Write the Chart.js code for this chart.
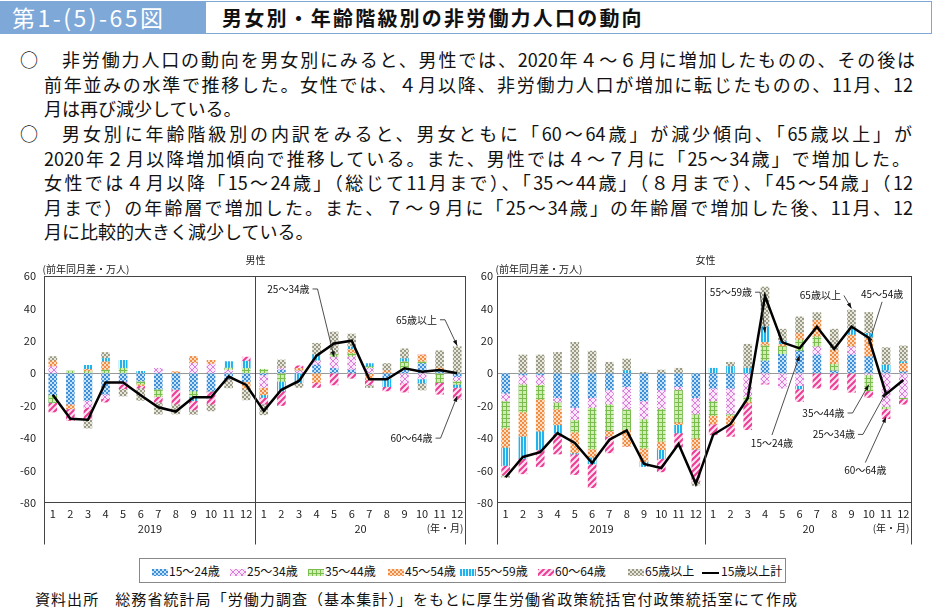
<!DOCTYPE html>
<html lang="ja">
<head>
<meta charset="utf-8">
<script src="https://cdn.jsdelivr.net/npm/chart.js@4.4.1/dist/chart.umd.min.js"></script>
<style>
body{margin:0;width:933px;height:608px;position:relative;overflow:hidden;background:#fff;font-family:'Noto Sans CJK JP',sans-serif;color:#111}
#fig{position:absolute;left:0;top:1px;width:205px;height:33px;background:#7ea8d8;color:#fff;font-size:23px;line-height:33px;padding-left:12px;box-sizing:border-box;letter-spacing:2.5px}
#ttl{position:absolute;left:205px;top:1px;width:727px;height:33px;border:1px solid #7ea8d8;box-sizing:border-box;font-size:20px;font-weight:bold;line-height:31px;padding-left:16px;letter-spacing:2.2px}
.ln{position:absolute;font-size:18px;line-height:24px;white-space:nowrap;text-align:justify;text-align-last:justify}
.last{text-align-last:left}
.mk{position:absolute;left:20px;font-size:18px;line-height:24px}
canvas.ch{position:absolute;top:250px}
#legend{position:absolute;left:139px;top:558px;width:647px;height:25px;border:1px solid #888;box-sizing:border-box;font-size:12px}
.li{position:absolute;top:0;height:23px;line-height:23px;white-space:nowrap}
.li canvas,.li span.sw{display:inline-block;vertical-align:middle;margin-right:1px}
#src{position:absolute;left:35px;top:588px;width:762px;font-size:15px;line-height:22px;white-space:nowrap;text-align:justify;text-align-last:justify}
</style>
</head>
<body>
<div id="fig">第1-(5)-65図</div>
<div id="ttl">男女別・年齢階級別の非労働力人口の動向</div>

<div class="mk" style="top:47px">○</div>
<div class="ln" style="left:62px;width:853px;top:47px">非労働力人口の動向を男女別にみると、男性では、2020年４～６月に増加したものの、その後は</div>
<div class="ln" style="left:44px;width:869px;top:72px">前年並みの水準で推移した。女性では、４月以降、非労働力人口が増加に転じたものの、11月、12</div>
<div class="ln last" style="left:44px;top:96px">月は再び減少している。</div>
<div class="mk" style="top:121px">○</div>
<div class="ln" style="left:62px;width:850px;top:121px">男女別に年齢階級別の内訳をみると、男女ともに「60～64歳」が減少傾向、「65歳以上」が</div>
<div class="ln" style="left:44px;width:866px;top:146px">2020年２月以降増加傾向で推移している。また、男性では４～７月に「25～34歳」で増加した。</div>
<div class="ln" style="left:44px;width:869px;top:170px">女性では４月以降「15～24歳」（総じて11月まで）、「35～44歳」（８月まで）、「45～54歳」（12</div>
<div class="ln" style="left:44px;width:869px;top:195px">月まで）の年齢層で増加した。また、７～９月に「25～34歳」の年齢層で増加した後、11月、12</div>
<div class="ln last" style="left:44px;top:219px">月に比較的大きく減少している。</div>

<canvas id="maleChart" class="ch" style="left:0" width="470" height="300"></canvas>
<canvas id="femaleChart" class="ch" style="left:470px" width="463" height="300"></canvas>

<div id="legend"></div>
<div id="src">資料出所　総務省統計局「労働力調査（基本集計）」をもとに厚生労働省政策統括官付政策統括室にて作成</div>

<script>
// months: 2019/1-12, 2020/1-12
const months = ['1','2','3','4','5','6','7','8','9','10','11','12','1','2','3','4','5','6','7','8','9','10','11','12'];
const years = ['2019', '20'];
const seriesNames = ['15～24歳', '25～34歳', '35～44歳', '45～54歳', '55～59歳', '60～64歳', '65歳以上'];
const totalName = '15歳以上計';
const yTicks = [-80, -60, -40, -20, 0, 20, 40, 60];

// 男性 (前年同月差・万人)
const male15_24 = [-13.3, -19, -16.8, -12.9, -5, -4.7, -9.8, -9.8, -10.9, -10.9, -3.5, -5.1, -1, 2, 0, 5.1, 3, 2, 0, -3.1, 2, 6, 1.5, -2];
const male25_34 = [4.1, 0, -4.3, -2.9, -2, 0, 3.1, 0, 6.1, 5.7, 2, 0, -7.8, 1.2, 1.5, 2.5, 7, 8.2, 3, 0, -6.1, -3.5, 0, -2.7];
const male35_44 = [-4.7, 1.4, 1, 2, 3.1, -2, -4.5, 0, -3.5, 0, 1.2, 3, 2.5, -5, 0, 0, 1.5, 2, 1, 0, 5, 1, -5.7, -2];
const male45_54 = [3.5, -2.9, 1.4, 5.1, 0, -1, 0, 1, 4.3, 2.3, 0, -4.1, -4.5, 0, 1.5, -5.7, 0, 2.5, -4.1, 1.5, 0, 4.3, 2, 0];
const male55_59 = [0, 0, 2.5, 2, 4.9, 1.2, 0, 0, -2.5, 0, 4, 4.5, -1.6, -6, -5.7, 3.7, 0, 1.5, 2, -5.1, 2, -2.5, 0, -2];
const male60_64 = [-5.9, -7.2, -7, -2, -2.5, -1.4, -3.5, -9.2, -5.7, -8.2, 0, 2.5, -4.1, -8.9, 1.6, -3.1, -7.2, -3.1, -3.1, -2.7, -5.5, 0, -7.2, -7.6];
const male65 = [2.7, 0, -5.7, 3.7, -4.5, -7.6, -7.4, -6.1, -2.7, -4.1, -5.5, -7.2, -6.6, 5, -3, 7.2, 14, 8, -1.6, 4.5, 6.1, -4.3, 10.4, 16.4];
const maleTotal = [-13.3, -28, -28.7, -5.7, -5.7, -13.5, -21, -23.6, -14.8, -14.8, -2, -7.2, -23.2, -10.2, -4.7, 10.9, 18.4, 20.1, -3.7, -3.7, 3.1, 1, 2, 0];

// 女性 (前年同月差・万人)
const female15_24 = [-12.3, -1, -1, -15, -21.1, -15, -10.2, -8.2, -17, -10.2, -8.2, -15, -9.2, -9.2, 0, 7.6, 11.7, 13.7, 11.3, 1.4, 11.3, 10.2, 1.5, 1];
const female25_34 = [-4.7, -5.7, -6, -2.9, -7.6, -6.1, -8.8, -13.9, -11.2, -11.7, -2, -10.2, -7.8, -16, -14.3, -6.1, -9.2, -7.6, 5.1, 0, 5.1, -1, -20.5, -15];
const female35_44 = [-16.8, -17.2, -9, -4.1, -7.6, -25.6, -16.4, -12.7, -18, -20.1, -19.9, -14.8, -9, -1, -3.1, 9.4, 4.7, 6.8, 6.1, 4.1, 0, -9.8, -1.4, -0.8];
const female45_54 = [-11.9, -15, -19.7, -9.8, -12.9, -5.1, -3.5, -10.2, -8.2, -5.1, -1.6, -6.8, -5.3, -5.9, -1, 2, 1.4, 4.1, 10.2, 8.8, 7.2, 11.7, 0, 5.1];
const female55_59 = [-11.1, -13.7, -11.5, -5.1, -0.6, -4, 0, 1.6, -3.1, -5.5, -5.1, 0, 3.1, 4.1, 3.1, 9.6, 2, -2, 0, 0, 3.7, 2.7, 3.5, 1];
const female60_64 = [-5.7, -9.4, -10.5, -12.9, -12.7, -14.8, -10.2, 0, 0, -8.2, -9, -19.9, -6.6, -6.8, -16.4, -0.6, 0, -7.8, -9.2, -10.2, -11.7, -4.1, -6.1, -3.3];
const female65 = [-1.6, 11.3, 11.3, 12.9, 19.1, 13.7, 6.8, 7.2, 0.6, 2, 3.1, -2.5, 0, 2.7, 14.8, 24.6, 7.4, 10.2, 4.7, 12.9, 11.7, 12.9, 10.8, 9.8];
const femaleTotal = [-64.1, -51.6, -48.6, -36.9, -43, -55.3, -41, -35.2, -55.9, -58.4, -43.6, -68.2, -37.9, -31.4, -15.4, 47.7, 19.1, 15.4, 28.7, 15, 28.7, 21.9, -12.9, -4.1];

// leader notes: text anchor (index, value) and arrow target (index, value)
const maleNotes = [
    { text: '25～34歳', tx: 14.6, ty: 52, align: 'right', from: 'right', tick: true, to: [16, 10] },
    { text: '65歳以上', tx: 21.85, ty: 33, align: 'right', from: 'right', tick: true, to: [23, 17] },
    { text: '60～64歳', tx: 21.6, ty: -40, align: 'right', from: 'right', tick: true, to: [23, -14] }
];
const femaleNotes = [
    { text: '55～59歳', tx: 14.25, ty: 50, align: 'right', from: 'right', tick: true, to: [15, 25] },
    { text: '65歳以上', tx: 18.2, ty: 48, align: 'center', from: 'right', tick: false, to: [20, 40] },
    { text: '45～54歳', tx: 21.77, ty: 49, align: 'center', from: 'bottom', to: [21, 18] },
    { text: '15～24歳', tx: 15.4, ty: -43, align: 'center', from: 'top', to: [17, 11] },
    { text: '35～44歳', tx: 19.6, ty: -24.5, align: 'right', from: 'right', tick: true, to: [21, -7] },
    { text: '25～34歳', tx: 20.2, ty: -37.7, align: 'right', from: 'right', tick: true, to: [22, -11.6] },
    { text: '60～64歳', tx: 20.8, ty: -60, align: 'center', from: 'top', to: [22, -27] }
];

const FONT = '"Noto Sans CJK JP", sans-serif';

function tile(size, bg, draw) {
    const c = document.createElement('canvas');
    c.width = size;
    c.height = size;
    const g = c.getContext('2d');
    g.fillStyle = bg;
    g.fillRect(0, 0, size, size);
    draw(g, size);
    return g.createPattern(c, 'repeat');
}

const patterns = [
    tile(4, '#c4e2f8', g => { g.fillStyle = '#3f8fd8'; g.fillRect(0, 0, 2, 2); g.fillRect(2, 2, 2, 2); }),
    tile(6, '#fbe6fb', g => {
        g.strokeStyle = '#d97fd9'; g.lineWidth = 1;
        g.beginPath(); g.moveTo(0, 0); g.lineTo(6, 6); g.moveTo(6, 0); g.lineTo(0, 6); g.stroke();
    }),
    tile(4, '#d3ecb6', g => { g.fillStyle = '#78bd4e'; g.fillRect(0, 0, 4, 1); g.fillRect(0, 0, 1, 4); }),
    tile(4, '#fddcbf', g => { g.fillStyle = '#f08c44'; g.fillRect(0, 0, 2, 2); g.fillRect(2, 2, 2, 2); }),
    tile(3, '#22b2ec', g => { g.fillStyle = '#e4f6fd'; g.fillRect(2, 0, 1, 3); }),
    tile(6, '#fde4f0', g => {
        g.strokeStyle = '#ec3c96'; g.lineWidth = 2;
        g.beginPath();
        g.moveTo(0, 6); g.lineTo(6, 0);
        g.moveTo(-3, 3); g.lineTo(3, -3);
        g.moveTo(3, 9); g.lineTo(9, 3);
        g.stroke();
    }),
    tile(4, '#e6e6da', g => { g.fillStyle = '#9a9a86'; g.fillRect(0, 0, 2, 2); g.fillRect(2, 2, 2, 2); })
];

function arrow(ctx, x1, y1, x2, y2) {
    const a = Math.atan2(y2 - y1, x2 - x1);
    ctx.beginPath();
    ctx.moveTo(x1, y1);
    ctx.lineTo(x2, y2);
    ctx.stroke();
    ctx.beginPath();
    ctx.moveTo(x2, y2);
    ctx.lineTo(x2 - 6 * Math.cos(a - 0.35), y2 - 6 * Math.sin(a - 0.35));
    ctx.lineTo(x2 - 6 * Math.cos(a + 0.35), y2 - 6 * Math.sin(a + 0.35));
    ctx.closePath();
    ctx.fill();
}

const overlay = {
    id: 'overlay',
    afterDraw(chart, args, opts) {
        const { ctx, chartArea: a, scales: { x, y } } = chart;
        ctx.save();
        ctx.strokeStyle = '#444';
        ctx.lineWidth = 1;
        const L = Math.round(a.left) + 0.5, R = Math.round(a.right) - 0.5;
        const T = Math.round(a.top) + 0.5, B = Math.round(a.bottom) - 0.5;
        ctx.strokeRect(L, T, R - L, B - T);
        const mid = Math.round((x.getPixelForValue(11) + x.getPixelForValue(12)) / 2) + 0.5;
        ctx.beginPath();
        ctx.moveTo(mid, T); ctx.lineTo(mid, B + 42);
        ctx.moveTo(L, B); ctx.lineTo(L, B + 42);
        ctx.moveTo(R, B); ctx.lineTo(R, B + 42);
        ctx.stroke();

        ctx.fillStyle = '#222';
        ctx.textBaseline = 'middle';
        ctx.font = '11px ' + FONT;
        ctx.textAlign = 'center';
        ctx.fillText(years[0], (L + mid) / 2, B + 26);
        ctx.fillText(years[1], (mid + R) / 2, B + 26);
        ctx.font = '10px ' + FONT;
        ctx.textAlign = 'right';
        ctx.fillText('(年・月)', R - 2, B + 26);

        ctx.font = '10px ' + FONT;
        ctx.textAlign = 'center';
        ctx.fillText(opts.title, mid, T - 16);
        ctx.textAlign = 'left';
        ctx.fillText('(前年同月差・万人)', L - 2, T - 7);

        // leader notes
        ctx.font = '10px ' + FONT;
        ctx.fillStyle = '#111';
        ctx.strokeStyle = '#222';
        ctx.lineWidth = 0.8;
        opts.notes.forEach(n => {
            const px = x.getPixelForValue(n.tx), py = y.getPixelForValue(n.ty);
            ctx.textAlign = n.align;
            ctx.fillText(n.text, px, py);
            const w = ctx.measureText(n.text).width;
            const left = n.align === 'right' ? px - w : px - w / 2;
            let sx, sy;
            if (n.from === 'right') { sx = left + w + 3; sy = py; }
            else if (n.from === 'top') { sx = left + w / 2; sy = py - 8; }
            else { sx = left + w / 2; sy = py + 8; }
            const ex = x.getPixelForValue(n.to[0]), ey = y.getPixelForValue(n.to[1]);
            if (n.tick) {
                ctx.beginPath(); ctx.moveTo(sx, sy); ctx.lineTo(sx + 5, sy); ctx.stroke();
                sx += 5;
            }
            arrow(ctx, sx, sy, ex, ey);
        });
        ctx.restore();
    }
};

function makeChart(id, series, total, notes, title, yWidth, tickPad, padRight) {
    const ctx = document.getElementById(id).getContext('2d');
    const datasets = series.map((d, i) => ({
        type: 'bar',
        label: seriesNames[i],
        data: d,
        backgroundColor: patterns[i],
        borderWidth: 0,
        barThickness: 8,
        stack: 'age',
        order: 1
    }));
    datasets.push({
        type: 'line',
        label: totalName,
        data: total,
        borderColor: '#000',
        borderWidth: 2.5,
        pointRadius: 0,
        tension: 0,
        fill: false,
        stack: 'total',
        order: 0
    });
    return new Chart(ctx, {
        type: 'bar',
        data: { labels: months, datasets: datasets },
        options: {
            responsive: false,
            animation: false,
            layout: { padding: { top: 26, right: padRight, left: 0, bottom: 0 } },
            plugins: {
                legend: { display: false },
                tooltip: { enabled: false },
                overlay: { title: title, notes: notes }
            },
            scales: {
                x: {
                    stacked: true,
                    grid: { display: false, drawTicks: false },
                    border: { display: false },
                    ticks: { autoSkip: false, maxRotation: 0, padding: 4, color: '#222', font: { size: 11, family: FONT } },
                    afterFit: s => { s.height = 47; }
                },
                y: {
                    stacked: true,
                    min: yTicks[0],
                    max: yTicks[yTicks.length - 1],
                    afterBuildTicks: s => { s.ticks = yTicks.map(v => ({ value: v })); },
                    grid: {
                        drawTicks: false,
                        color: c => c.tick && c.tick.value === 0 ? '#999' : 'rgba(0,0,0,0)'
                    },
                    border: { display: false },
                    ticks: { padding: tickPad, color: '#222', font: { size: 11, family: FONT } },
                    afterFit: s => { s.width = yWidth; }
                }
            }
        },
        plugins: [overlay]
    });
}

makeChart('maleChart',
    [male15_24, male25_34, male35_44, male45_54, male55_59, male60_64, male65],
    maleTotal, maleNotes, '男性', 44, 8, 4);
makeChart('femaleChart',
    [female15_24, female25_34, female35_44, female45_54, female55_59, female60_64, female65],
    femaleTotal, femaleNotes, '女性', 27, 4, 21);

// legend
const legend = document.getElementById('legend');
const legendX = [12, 90, 168, 248, 320, 398, 488];
seriesNames.forEach((name, i) => {
    const item = document.createElement('div');
    item.className = 'li';
    item.style.left = legendX[i] + 'px';
    const sw = document.createElement('canvas');
    sw.width = 16;
    sw.height = 7;
    const g = sw.getContext('2d');
    g.fillStyle = patterns[i];
    g.fillRect(0, 0, 16, 7);
    item.appendChild(sw);
    item.appendChild(document.createTextNode(name));
    legend.appendChild(item);
});
const lineItem = document.createElement('div');
lineItem.className = 'li';
lineItem.style.left = '562px';
lineItem.innerHTML = '<span class="sw" style="width:17px;height:2px;background:#000;margin-right:2px"></span>' + totalName;
legend.appendChild(lineItem);
</script>
</body>
</html>
